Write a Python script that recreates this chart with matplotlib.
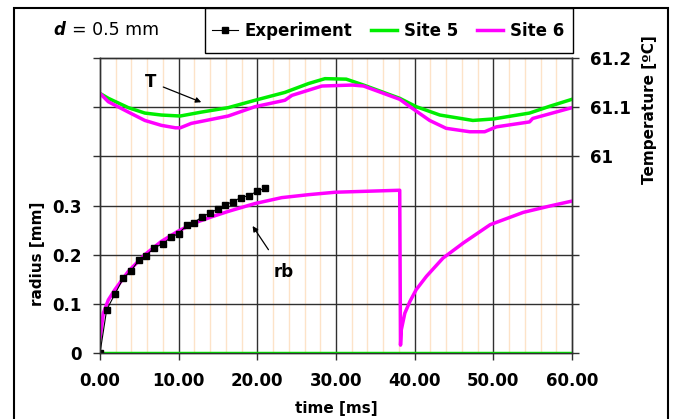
import matplotlib
matplotlib.use("Agg")
import matplotlib.pyplot as plt
from matplotlib.lines import Line2D
from matplotlib.patches import Rectangle

plt.rcParams['font.family'] = ['DejaVu Sans']

# experiment: bubble radius
exp_t = [0, 0.85, 1.9, 2.96, 3.94, 5.0, 5.84, 6.9, 7.96, 9.0, 10.0, 11.1, 11.9, 13.0,
         14.0, 15.0, 15.9, 16.9, 17.9, 18.9, 20.0, 20.97]
exp_r = [0, 0.088, 0.120, 0.152, 0.167, 0.190, 0.198, 0.214, 0.222, 0.235, 0.243,
         0.261, 0.265, 0.277, 0.285, 0.293, 0.301, 0.308, 0.316, 0.320, 0.329, 0.335]

# site 6 radius
s6_rt = [0, 0.42, 1.06, 1.9, 3.6, 5.7, 7.8, 9.95, 12.1, 14.2, 16.3, 19.7, 23.1, 26.5,
         29.9, 38.1, 38.2, 38.3, 38.75, 39.4, 40.2, 41.5, 43.6, 46.2, 49.6, 53.8,
         57.2, 60.0]
s6_r = [0.03, 0.081, 0.108, 0.129, 0.166, 0.200, 0.227, 0.248, 0.265, 0.277, 0.288,
        0.304, 0.316, 0.322, 0.327, 0.331, 0.016, 0.047, 0.081, 0.105, 0.129, 0.156,
        0.193, 0.224, 0.261, 0.286, 0.299, 0.309]

# site 5 radius (stays at zero)
s5_rt = [0, 60]
s5_r = [0, 0]

# temperature
s5_tt = [0, 1.06, 3.6, 5.7, 7.8, 10.2, 12.9, 16.3, 19.7, 23.5, 26.5, 28.6, 31.3,
         33.5, 38.1, 40.2, 43.2, 47.4, 50.0, 54.6, 57.2, 60.0]
s5_T = [61.128, 61.118, 61.099, 61.088, 61.084, 61.082, 61.090, 61.099, 61.114,
        61.130, 61.148, 61.158, 61.157, 61.145, 61.118, 61.101, 61.084, 61.073,
        61.076, 61.088, 61.102, 61.116]
s6_tt = [0, 1.06, 3.6, 5.7, 7.8, 9.6, 10.2, 11.6, 16.3, 19.7, 23.5, 24.4, 28.2,
         32.1, 33.5, 38.1, 39.4, 41.9, 44.0, 47.0, 48.9, 50.4, 54.6, 55.0, 60.0]
s6_T = [61.128, 61.111, 61.090, 61.073, 61.063, 61.058, 61.058, 61.067, 61.082,
        61.101, 61.114, 61.124, 61.143, 61.145, 61.143, 61.116, 61.101, 61.073,
        61.057, 61.050, 61.050, 61.060, 61.070, 61.077, 61.099]

W, H = 679, 419
fig = plt.figure(figsize=(6.79, 4.19), dpi=100)
ax = fig.add_axes([100/W, 1-353/H, 472/W, 295/H])
ax2 = ax.twinx()

grid_dark = '#303030'
for t in range(2, 60, 2):
    if t % 10:
        ax.axvline(t, color='#fde3c8', lw=1, zorder=0)
for t in range(10, 60, 10):
    ax.axvline(t, color=grid_dark, lw=1, zorder=0.5)
for r in [0.1, 0.2, 0.3, 0.4, 0.5]:
    ax.axhline(r, color=grid_dark, lw=1, zorder=0.5)

ax.plot(s5_rt, s5_r, color='#00ee00', lw=2.5, zorder=3)
ax.plot(s6_rt, s6_r, color='#ff00ff', lw=2.5, zorder=3)
ax.plot(exp_t, exp_r, color='black', lw=0.8, marker='s', ms=5, zorder=4)

ax2.plot(s5_tt, s5_T, color='#00ee00', lw=2.5)
ax2.plot(s6_tt, s6_T, color='#ff00ff', lw=2.5)

ax.set_xlim(0, 60)
ax.set_ylim(0, 0.6)
ax2.set_ylim(60.6, 61.2)

ax.set_xticks(range(0, 61, 10))
ax.set_xticklabels([f"{v:.2f}" for v in range(0, 61, 10)], fontsize=12, fontweight='bold')
ax.set_yticks([0, 0.1, 0.2, 0.3, 0.4, 0.5, 0.6])
ax.set_yticklabels(['0', '0.1', '0.2', '0.3', '', '', ''], fontsize=12, fontweight='bold')
ax2.set_yticks([60.6, 60.7, 60.8, 60.9, 61.0, 61.1, 61.2])
ax2.set_yticklabels(['', '', '', '', '61', '61.1', '61.2'], fontsize=12, fontweight='bold')
ax.tick_params(axis='x', length=5, width=1, color=grid_dark, pad=9)
ax.tick_params(axis='y', length=5, width=1, color=grid_dark, pad=8)
ax2.tick_params(axis='y', length=5, width=1, color=grid_dark, pad=8)

for a in (ax, ax2):
    for s in a.spines.values():
        s.set_color(grid_dark)
        s.set_linewidth(1)

ax.set_xlabel('time [ms]', fontsize=11, fontweight='bold')
ax.set_ylabel('radius [mm]', fontsize=11, fontweight='bold')
ax2.set_ylabel('Temperature [ºC]', fontsize=11, fontweight='bold')
ax.xaxis.label.set_va('center')
ax.xaxis.set_label_coords(0.5, -(409-353)/295)
ax.yaxis.set_label_coords(-55/472, (353-254)/295)
ax2.yaxis.set_label_coords(1 + 70/472, (353-110)/295)

# annotations
ax2.annotate('T', xy=(13.2, 61.108), xytext=(7.2, 61.151), fontsize=12, fontweight='bold',
             ha='right', va='center',
             arrowprops=dict(arrowstyle='-|>', color='black', lw=0.9, mutation_scale=8,
                             shrinkA=3))
ax.annotate('rb', xy=(19.2, 0.263), xytext=(23.3, 0.165), fontsize=12, fontweight='bold',
            ha='center', va='center',
            arrowprops=dict(arrowstyle='-|>', color='black', lw=0.9, mutation_scale=8,
                            shrinkA=9))

fig.text(53/W, 1-30/H, 'd', fontsize=12, fontweight='bold', fontstyle='italic',
         va='center', ha='left')
fig.text(72/W, 1-30/H, '= 0.5 mm', fontsize=12.5, va='center', ha='left')

handles = [Line2D([], [], color='black', lw=0.8, marker='s', ms=5),
           Line2D([], [], color='#00ee00', lw=2.5),
           Line2D([], [], color='#ff00ff', lw=2.5)]
leg = fig.legend(handles, ['Experiment', 'Site 5', 'Site 6'], loc='center left',
                 bbox_to_anchor=(212/W, 1-30.5/H), ncol=3, frameon=False,
                 handlelength=1.55, columnspacing=1.15, handletextpad=0.4,
                 borderpad=0, borderaxespad=0,
                 prop={'weight': 'bold', 'size': 12})
fig.add_artist(Rectangle((205/W, 1-53/H), 368/W, 45/H, transform=fig.transFigure,
                         fill=False, edgecolor='black', lw=1))

fig.add_artist(Rectangle((14/W, -0.05), 654/W, 1.05-8/H, transform=fig.transFigure,
                         fill=False, edgecolor='black', lw=1.5))

fig.savefig('out.png', dpi=100)
